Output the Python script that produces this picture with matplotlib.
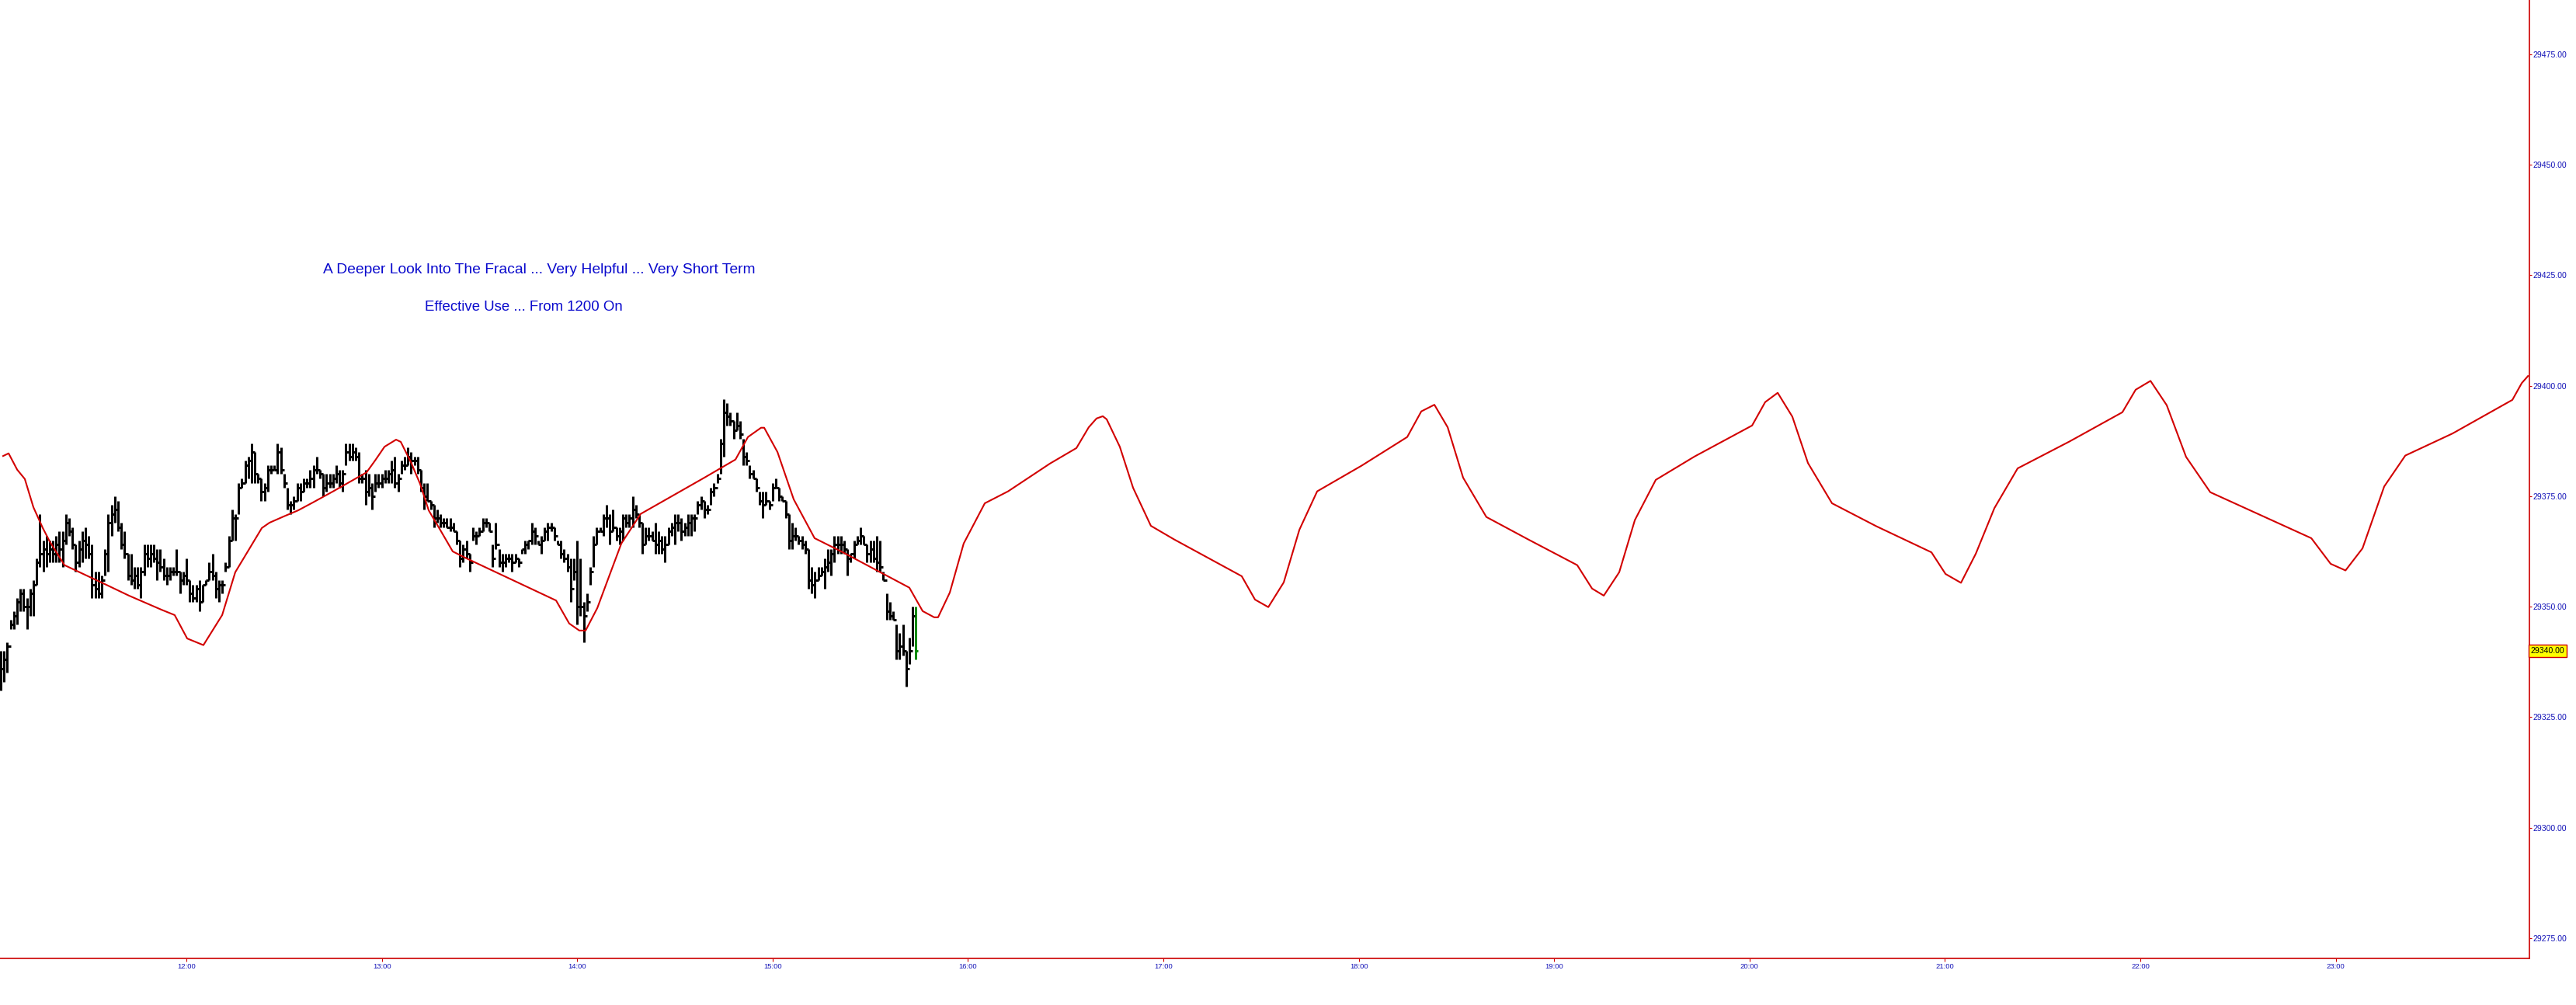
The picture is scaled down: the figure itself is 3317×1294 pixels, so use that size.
import matplotlib
matplotlib.use("Agg")
import matplotlib.pyplot as plt
import matplotlib.transforms as mtransforms

# ---------------- data ----------------
BASE = 29300
# 1-minute bars starting 11:03 (offsets from 29300)
bar_high = [40, 40, 42, 47, 49, 52, 54, 54, 52, 54, 56, 61, 71, 65, 66, 65, 65, 66, 67, 67,
            71, 70, 68, 64, 65, 67, 68, 66, 64, 58, 58, 57, 63, 71, 73, 75, 74, 69, 67, 62,
            62, 59, 59, 59, 64, 64, 64, 64, 63, 63, 61, 59, 59, 59, 63, 58, 58, 61, 56, 55,
            55, 56, 55, 56, 60, 62, 58, 56, 56, 60, 66, 72, 71, 78, 79, 83, 84, 87, 85, 80,
            79, 78, 82, 82, 82, 87, 86, 80, 77, 74, 75, 78, 78, 79, 79, 81, 82, 84, 81, 80,
            80, 80, 80, 82, 81, 81, 87, 87, 87, 86, 85, 80, 81, 80, 78, 80, 80, 80, 81, 81,
            83, 84, 80, 83, 84, 86, 85, 84, 84, 81, 78, 78, 74, 73, 72, 71, 70, 70, 70, 69,
            67, 65, 64, 65, 62, 68, 67, 68, 70, 70, 69, 64, 69, 63, 62, 62, 62, 62, 62, 61,
            63, 65, 65, 69, 68, 65, 66, 68, 69, 69, 68, 65, 65, 63, 62, 61, 61, 65, 61, 51,
            53, 59, 66, 68, 68, 71, 73, 71, 72, 68, 68, 71, 71, 71, 75, 73, 71, 69, 68, 68,
            67, 69, 67, 66, 66, 68, 69, 71, 71, 70, 69, 71, 71, 71, 74, 75, 74, 73, 77, 78,
            80, 88, 97, 96, 94, 92, 94, 92, 88, 85, 82, 81, 79, 76, 76, 76, 74, 78, 79, 77,
            75, 74, 71, 69, 68, 66, 66, 65, 63, 59, 58, 59, 59, 61, 63, 63, 66, 66, 66, 65,
            63, 62, 65, 66, 68, 66, 64, 65, 65, 66, 65, 58, 53, 51, 49, 46, 44, 46, 40, 43,
            50, 50]
bar_low = [31, 33, 35, 45, 45, 46, 49, 49, 45, 48, 48, 55, 59, 58, 59, 60, 60, 60, 60, 59,
           64, 66, 63, 58, 59, 60, 61, 61, 52, 52, 52, 52, 57, 58, 66, 69, 67, 63, 61, 56,
           55, 54, 54, 52, 57, 59, 59, 60, 56, 58, 56, 55, 56, 57, 57, 53, 55, 55, 51, 51,
           51, 49, 51, 55, 56, 56, 52, 51, 53, 58, 59, 65, 65, 71, 77, 78, 79, 78, 78, 78,
           74, 74, 76, 80, 81, 80, 80, 77, 72, 71, 72, 74, 74, 76, 77, 77, 77, 80, 79, 75,
           76, 77, 77, 78, 77, 76, 82, 83, 83, 83, 78, 78, 73, 75, 72, 76, 77, 77, 78, 78,
           78, 77, 76, 80, 81, 82, 80, 82, 80, 76, 72, 74, 72, 68, 69, 68, 68, 68, 67, 67,
           64, 59, 60, 61, 58, 65, 64, 66, 67, 68, 67, 59, 63, 59, 58, 59, 60, 58, 60, 59,
           62, 62, 63, 64, 64, 64, 62, 65, 65, 67, 65, 64, 61, 60, 58, 51, 56, 46, 48, 42,
           49, 55, 59, 64, 67, 66, 68, 64, 67, 65, 64, 65, 68, 68, 68, 70, 68, 62, 64, 65,
           65, 62, 62, 62, 60, 64, 66, 64, 67, 65, 66, 66, 66, 67, 71, 72, 70, 71, 73, 75,
           78, 80, 84, 91, 91, 88, 90, 88, 82, 82, 79, 79, 76, 73, 70, 73, 72, 74, 77, 74,
           74, 70, 63, 63, 65, 64, 63, 62, 54, 53, 52, 56, 57, 54, 58, 57, 60, 62, 62, 62,
           57, 60, 61, 64, 64, 64, 60, 60, 60, 58, 58, 56, 47, 47, 47, 38, 38, 39, 32, 37,
           41, 38]
bar_close = [36, 38, 41, 46, 48, 51, 53, 50, 50, 53, 55, 60, 62, 63, 62, 63, 62, 64, 63, 65,
             69, 67, 64, 60, 63, 65, 64, 62, 55, 54, 53, 56, 62, 69, 71, 72, 68, 64, 62, 57,
             56, 57, 55, 58, 62, 61, 62, 61, 60, 59, 57, 57, 58, 58, 58, 56, 57, 56, 53, 52,
             54, 51, 55, 56, 58, 57, 54, 55, 55, 59, 65, 70, 70, 77, 78, 82, 83, 85, 80, 79,
             76, 77, 81, 81, 81, 85, 81, 78, 73, 73, 74, 77, 76, 78, 78, 79, 81, 81, 80, 77,
             78, 78, 79, 80, 78, 80, 85, 84, 85, 84, 79, 79, 76, 77, 75, 78, 78, 79, 79, 80,
             81, 78, 79, 82, 82, 84, 83, 83, 81, 77, 75, 74, 73, 70, 70, 69, 69, 68, 68, 67,
             65, 61, 63, 62, 60, 66, 66, 67, 69, 69, 67, 61, 64, 60, 60, 61, 61, 60, 61, 60,
             63, 64, 65, 67, 66, 64, 65, 67, 68, 68, 66, 64, 62, 61, 59, 54, 58, 50, 50, 48,
             51, 58, 64, 67, 67, 70, 70, 67, 68, 66, 67, 70, 69, 70, 72, 71, 69, 64, 66, 66,
             65, 64, 65, 63, 64, 67, 68, 69, 69, 67, 68, 69, 70, 70, 73, 74, 72, 72, 76, 77,
             79, 87, 94, 93, 92, 90, 91, 89, 84, 83, 80, 79, 77, 74, 73, 74, 73, 77, 77, 75,
             74, 71, 65, 66, 66, 65, 64, 63, 56, 55, 56, 57, 58, 59, 60, 62, 64, 64, 64, 63,
             61, 62, 64, 65, 66, 64, 62, 63, 61, 60, 59, 56, 49, 48, 47, 40, 41, 40, 36, 40,
             48, 40]
first_open = 34
bar_start_minute = 11 * 60 + 3          # first bar at 11:03

# projected fractal line (hour of day, price)
line_hour = [11.062, 11.090, 11.134, 11.173, 11.217, 11.265, 11.300, 11.376, 11.583, 11.706,
             11.873, 11.940, 12.004, 12.087, 12.183, 12.250, 12.314, 12.386, 12.425, 12.497,
             12.572, 12.648, 12.755, 12.922, 12.966, 13.014, 13.073, 13.097, 13.149, 13.196,
             13.240, 13.300, 13.363, 13.435, 13.892, 13.959, 14.011, 14.043, 14.103, 14.166,
             14.226, 14.325, 14.500, 14.651, 14.810, 14.874, 14.941, 14.957, 15.025, 15.108,
             15.215, 15.351, 15.700, 15.768, 15.827, 15.847, 15.907, 15.978, 16.086, 16.205,
             16.420, 16.555, 16.618, 16.658, 16.690, 16.710, 16.777, 16.845, 16.936, 17.056,
             17.401, 17.469, 17.537, 17.616, 17.696, 17.787, 18.014, 18.248, 18.320, 18.387,
             18.455, 18.534, 18.653, 18.868, 19.118, 19.194, 19.254, 19.333, 19.413, 19.520,
             19.719, 20.013, 20.080, 20.144, 20.219, 20.299, 20.422, 20.649, 20.931, 21.003,
             21.082, 21.158, 21.253, 21.372, 21.638, 21.908, 21.976, 22.052, 22.135, 22.234,
             22.358, 22.875, 22.974, 23.050, 23.137, 23.248, 23.356, 23.598, 23.904, 23.952,
             23.984]
line_price = [29384.1, 29384.7, 29381.0, 29378.9, 29372.5, 29367.8, 29364.8, 29359.4, 29355.1, 29352.5,
              29349.3, 29348.1, 29342.8, 29341.3, 29348.1, 29357.8, 29362.5, 29367.8, 29369.0, 29370.4,
              29371.8, 29373.6, 29376.2, 29380.4, 29383.1, 29386.2, 29387.8, 29387.3, 29382.7, 29377.8,
              29371.8, 29367.3, 29362.5, 29360.9, 29351.4, 29346.2, 29344.6, 29344.6, 29349.7, 29357.2,
              29364.3, 29371.0, 29375.4, 29379.2, 29383.3, 29388.4, 29390.5, 29390.5, 29385.0, 29374.3,
              29365.5, 29362.5, 29354.3, 29349.0, 29347.6, 29347.6, 29353.2, 29364.3, 29373.4, 29376.1,
              29382.4, 29385.9, 29390.6, 29392.6, 29393.1, 29392.4, 29386.2, 29376.9, 29368.3, 29365.2,
              29356.9, 29351.6, 29349.9, 29355.5, 29367.4, 29376.1, 29381.9, 29388.4, 29394.2, 29395.7,
              29390.6, 29379.2, 29370.3, 29365.2, 29359.4, 29354.1, 29352.5, 29357.8, 29369.6, 29378.7,
              29384.0, 29391.0, 29396.3, 29398.4, 29393.0, 29382.5, 29373.4, 29368.2, 29362.3, 29357.4,
              29355.4, 29362.0, 29372.3, 29381.3, 29387.4, 29394.0, 29399.1, 29401.1, 29395.6, 29383.9,
              29375.9, 29365.5, 29359.7, 29358.2, 29363.2, 29377.2, 29384.2, 29389.2, 29396.8, 29400.6,
              29402.2]

y_ticks = [29275, 29300, 29325, 29350, 29375, 29400, 29425, 29450, 29475]
x_ticks = [12, 13, 14, 15, 16, 17, 18, 19, 20, 21, 22, 23]
x_tick_labels = ["12:00", "13:00", "14:00", "15:00", "16:00", "17:00", "18:00",
                 "19:00", "20:00", "21:00", "22:00", "23:00"]
last_price = 29340.00
title_lines = ["A Deeper Look Into The Fracal ... Very Helpful ... Very Short Term",
               "Effective Use ... From 1200 On"]

# ---------------- figure ----------------
W, H = 3317, 1294
DPI = 100
fig = plt.figure(figsize=(W / DPI, H / DPI), dpi=DPI, facecolor="white")
ax_right_px, ax_bottom_px = 3257, 1234
ax = fig.add_axes([0, 1 - ax_bottom_px / H, ax_right_px / W, ax_bottom_px / H])
ax.set_facecolor("white")

hour_left = 11.046
hour_per_px = 1 / 251.6
ax.set_xlim(hour_left, hour_left + ax_right_px * hour_per_px)
ax.set_ylim(29270.4, 29487.3)

RED = "#CC0000"
BLUE = "#1414B8"

# bars
n = len(bar_high)
t = [(bar_start_minute + i) / 60.0 for i in range(n)]
hi = [BASE + v for v in bar_high]
lo = [BASE + v for v in bar_low]
cl = [BASE + v for v in bar_close]
op = [BASE + first_open] + cl[:-1]
colors = ["black"] * (n - 1) + ["#008A00"]
tick_w = 2.6 * hour_per_px
lw = 2.15
ax.vlines(t, lo, hi, colors=colors, linewidth=lw, capstyle="butt", zorder=3)
ax.hlines(op, [x - tick_w for x in t], t, colors=colors, linewidth=lw, zorder=3)
ax.hlines(cl, t, [x + tick_w for x in t], colors=colors, linewidth=lw, zorder=3)

# fractal projection line
ax.plot(line_hour, line_price, color="#D20000", linewidth=1.5, zorder=4,
        solid_joinstyle="round")

# spines
for s in ["left", "top"]:
    ax.spines[s].set_visible(False)
for s in ["bottom", "right"]:
    ax.spines[s].set_color(RED)
    ax.spines[s].set_linewidth(1.2)

ax.yaxis.tick_right()
ax.set_yticks(y_ticks)
ax.set_yticklabels([f"{v:.2f}" for v in y_ticks])
ax.set_xticks(x_ticks)
ax.set_xticklabels(x_tick_labels)
ax.tick_params(axis="y", direction="out", length=2.5, width=0.8, color=RED,
               labelcolor=BLUE, labelsize=7.6, pad=0.8)
ax.tick_params(axis="x", direction="out", length=3, width=0.8, color=RED,
               labelcolor=BLUE, labelsize=6.8, pad=1.5)
for lab in ax.get_yticklabels():
    lab.set_family(["Liberation Sans", "DejaVu Sans"])
for lab in ax.get_xticklabels():
    lab.set_family(["Liberation Sans Narrow", "Liberation Sans", "DejaVu Sans"])

# last price box
trans = mtransforms.blended_transform_factory(ax.transAxes, ax.transData)
ax.text(1.0005, last_price, f"{last_price:.2f}", transform=trans, ha="left", va="center",
        fontsize=7.6, family=["Liberation Sans", "DejaVu Sans"], color="black",
        bbox=dict(boxstyle="square,pad=0.25", facecolor="#FFFF00", edgecolor=RED, linewidth=1),
        clip_on=False, zorder=10)

# title texts (fit widths)
specs = [(title_lines[0], 694.5, 347, 555), (title_lines[1], 674, 395, 254)]
texts = []
for s, cx, cy, wpx in specs:
    tx = fig.text(cx / W, 1 - cy / H, s, ha="center", va="center", color="#0A0ACD",
                  fontsize=13, family=["Liberation Sans", "DejaVu Sans"])
    texts.append((tx, wpx))
fig.canvas.draw()
r = fig.canvas.get_renderer()
for tx, wpx in texts:
    bb = tx.get_window_extent(r)
    tx.set_fontsize(13 * wpx / bb.width)

fig.savefig("out.png", dpi=DPI, facecolor="white")
